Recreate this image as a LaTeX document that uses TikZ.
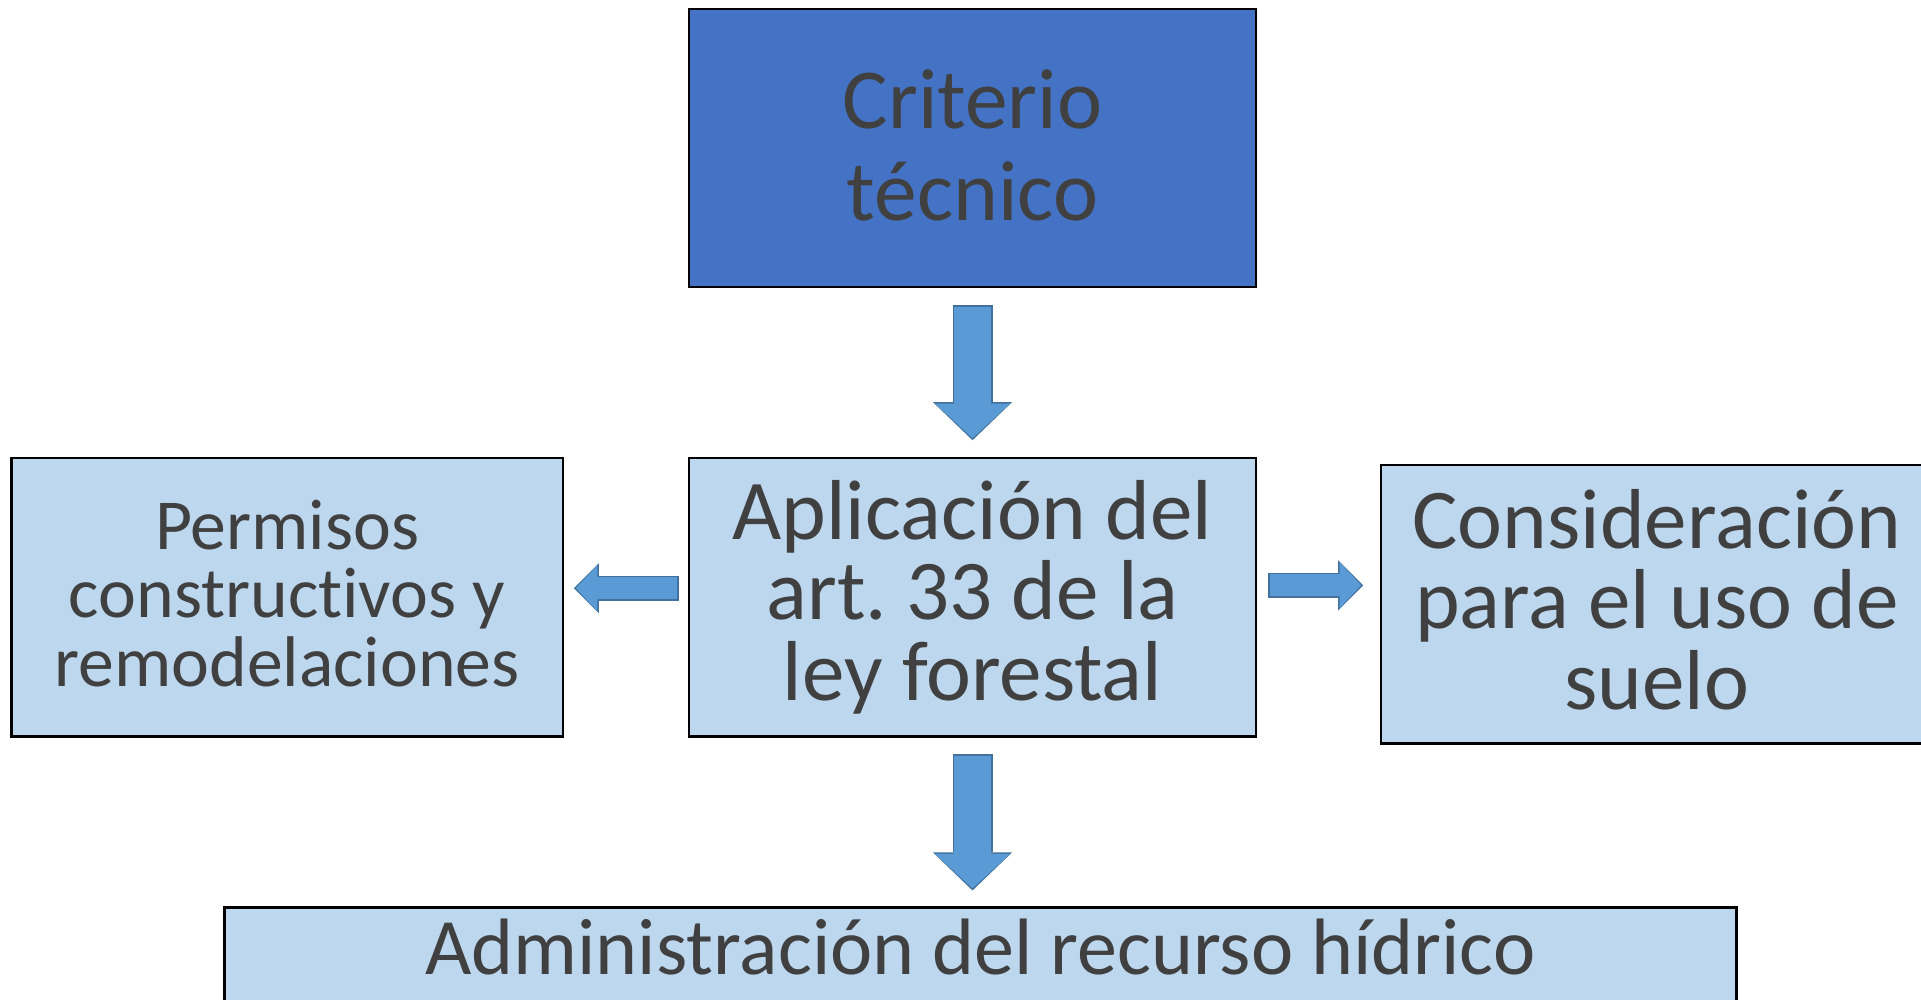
\documentclass[tikz,border=0pt]{standalone}
\usepackage{fontspec}
\setmainfont{Carlito}[Ligatures={NoCommon}]
\usetikzlibrary{positioning,arrows.meta}
\definecolor{darkblue}{HTML}{4472C4}
\definecolor{lightblue}{HTML}{BDD7EE}
\definecolor{arrowblue}{HTML}{5B9BD5}
\definecolor{arrowedge}{HTML}{41719C}
\definecolor{textgray}{HTML}{404040}
\tikzset{
  block/.style={draw=black, line width=0.7pt, rectangle, fill=lightblue, text=textgray, align=center,
    minimum width=5.51cm, minimum height=2.78cm, inner sep=0pt, outer sep=0pt},
  vedge/.style={draw=arrowedge, line width=0.40cm, -{Triangle[width=0.79cm, length=0.38cm, line width=0pt]}},
  vbody/.style={draw=arrowblue, line width=0.37cm, -{Triangle[width=0.75cm, length=0.344cm, line width=0pt]}},
  hedge/.style={draw=arrowedge, line width=0.25cm, -{Triangle[width=0.50cm, length=0.25cm, line width=0pt]}},
  hbody/.style={draw=arrowblue, line width=0.22cm, -{Triangle[width=0.458cm, length=0.214cm, line width=0pt]}}
}

\begin{document}
\begin{tikzpicture}[x=0.01cm, y=-0.01cm, node distance=1.71cm]
\useasboundingbox (0,0) rectangle (1921,999);
\clip (0,0) rectangle (1921,999);

\node [block, fill=darkblue, minimum width=5.67cm, font=\fontsize{24.3}{26.2}\selectfont] (crit) at (972.5,148) {Criterio\\técnico\rule[-0.06cm]{0pt}{0pt}};
\node [block, below=of crit, minimum width=5.67cm, font=\fontsize{24.2}{23}\selectfont] (appl) {Aplicación del\\art.\ 33 de la\\ley forestal};
\node [block, left=1.26cm of appl, font=\fontsize{20.4}{19.6}\selectfont] (perm) {Permisos\\constructivos y\\remodelaciones\rule[-0.08cm]{0pt}{0pt}};
\node [block, right=1.25cm of appl, yshift=-0.07cm, font=\fontsize{24.2}{22.9}\selectfont] (cons) {Consideración\\para el uso de\\suelo\rule[-0.1cm]{0pt}{0pt}};
\node [block, below=of appl, xshift=0.08cm, minimum width=15.11cm, minimum height=0pt, inner ysep=0.07cm,
  text height=0.6cm, text depth=1.5cm, font=\fontsize{22.75}{24}\selectfont] (recur) {Administración del recurso hídrico};

% down arrows
\draw [vedge, shorten <=0.18cm, shorten >=0.18cm] (crit) -- (appl);
\draw [vbody, shorten <=0.195cm, shorten >=0.201cm] (crit) -- (appl);
\draw [vedge, shorten <=0.18cm, shorten >=0.17cm] (appl) -- (appl |- recur.north);
\draw [vbody, shorten <=0.195cm, shorten >=0.191cm] (appl) -- (appl |- recur.north);

% side arrows
\coordinate (rgt) at ([yshift=0.12cm]appl.east);
\coordinate (lft) at ([yshift=0.09cm]appl.west);
\draw [hedge, shorten <=0.12cm, shorten >=0.18cm] (rgt) -- (rgt -| cons.west);
\draw [hbody, shorten <=0.135cm, shorten >=0.201cm] (rgt) -- (rgt -| cons.west);
\draw [hedge, shorten <=0.10cm, shorten >=0.11cm] (lft) -- (lft -| perm.east);
\draw [hbody, shorten <=0.115cm, shorten >=0.131cm] (lft) -- (lft -| perm.east);

\end{tikzpicture}
\end{document}
